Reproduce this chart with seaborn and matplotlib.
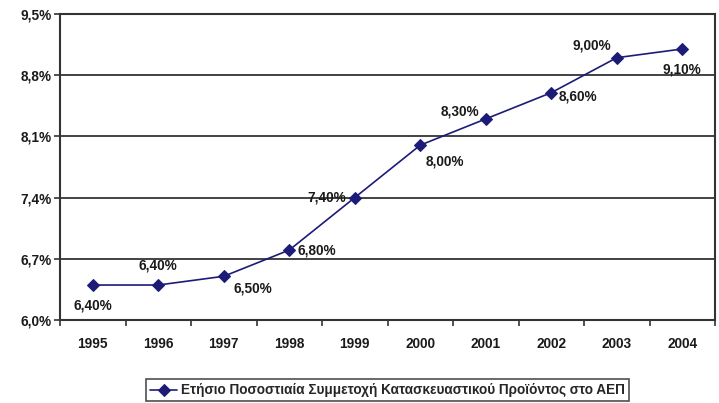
import numpy as np
import pandas as pd
import matplotlib
matplotlib.use("Agg")
import matplotlib.pyplot as plt
import seaborn as sns

# data
years = ["1995", "1996", "1997", "1998", "1999", "2000", "2001", "2002", "2003", "2004"]
share = [6.4, 6.4, 6.5, 6.8, 7.4, 8.0, 8.3, 8.6, 9.0, 9.1]
point_labels = ["6,40%", "6,40%", "6,50%", "6,80%", "7,40%", "8,00%", "8,30%", "8,60%", "9,00%", "9,10%"]
y_ticks = [6.0, 6.7, 7.4, 8.1, 8.8, 9.5]
y_tick_labels = ["6,0%", "6,7%", "7,4%", "8,1%", "8,8%", "9,5%"]
series_name = "Ετήσιο Ποσοστιαία Συμμετοχή Κατασκευαστικού Προϊόντος στο ΑΕΠ"

# label offsets in points (dx, dy) and alignment, per point
offsets = [(0, -10, "center", "top"), (0, 9, "center", "bottom"), (7, -4, "left", "top"),
           (6, 0, "left", "center"), (-6, 0, "right", "center"), (4, -12, "left", "center"),
           (-5, 5, "right", "center"), (5, -3, "left", "center"), (-4, 4, "right", "bottom"),
           (0, -15, "center", "center")]

sns.set_theme(style="white")
plt.rcParams["font.family"] = ["Liberation Sans", "DejaVu Sans"]

df = pd.DataFrame({"x": np.arange(len(years)), "share": share, "series": series_name})

fig = plt.figure(figsize=(7.19, 4.03), dpi=100)
ax = fig.add_axes([60 / 719, 1 - 320 / 403, 655 / 719, 306 / 403])

sns.lineplot(data=df, x="x", y="share", hue="series", palette=["#1c1c78"],
             marker="D", markersize=6, markeredgecolor="#1c1c78", linewidth=1.2, ax=ax)

fs = 9.8
txt = "#1a1a1a"
for i, (v, lab) in enumerate(zip(share, point_labels)):
    dx, dy, ha, va = offsets[i]
    ax.annotate(lab, (i, v), xytext=(dx, dy), textcoords="offset points",
                ha=ha, va=va, fontsize=fs, fontweight="bold", color=txt)

ax.set_xlim(-0.5, len(years) - 0.5)
ax.set_ylim(6.0, 9.5)
ax.set_yticks(y_ticks)
ax.set_yticklabels(y_tick_labels, fontsize=fs, fontweight="bold", color=txt)
ax.set_xticks(np.arange(len(years)))
ax.set_xticklabels(years, fontsize=fs, fontweight="bold", color=txt)
ax.set_xticks(np.arange(len(years) + 1) - 0.5, minor=True)
ax.tick_params(axis="x", which="major", length=0, pad=12)
ax.tick_params(axis="x", which="minor", length=4, width=1.2, color="#333333", bottom=True)
ax.tick_params(axis="y", length=4, width=1.2, color="#333333", left=True, pad=2)
ax.set_xlabel("")
ax.set_ylabel("")

for y in y_ticks[1:-1]:
    ax.axhline(y, color="#222222", linewidth=1.2, zorder=0)
for s in ax.spines.values():
    s.set_color("#333333")
    s.set_linewidth(1.5)

leg = ax.legend(loc="center", bbox_to_anchor=(0.5, -0.23), frameon=True, fancybox=False,
                prop={"size": fs, "weight": "bold"}, handlelength=2.0, borderpad=0.3,
                handletextpad=0.3)
leg.get_frame().set_edgecolor("#222222")
leg.get_frame().set_linewidth(1.2)

fig.savefig("out.png", dpi=100)
